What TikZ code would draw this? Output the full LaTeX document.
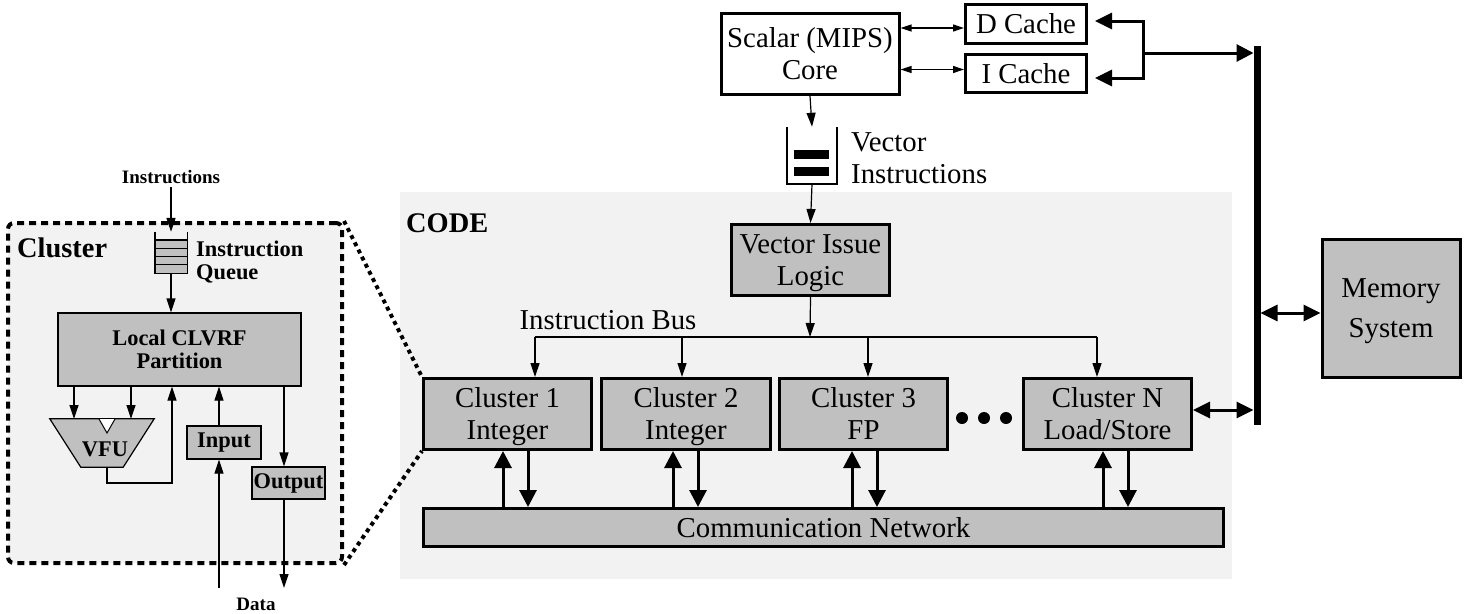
\documentclass[tikz,border=0pt]{standalone}
\usepackage{fontspec}
\setmainfont{Liberation Serif}
\usetikzlibrary{arrows.meta,positioning}

\definecolor{boxgray}{RGB}{192,192,192}
\definecolor{bggray}{RGB}{242,242,242}

\newcommand\bigtxt{\fontsize{28.8}{32}\selectfont}
\newcommand\midtxt{\fontsize{22.4}{23}\selectfont\bfseries}
\newcommand\smalltxt{\fontsize{19}{21}\selectfont\bfseries}

\tikzset{
	blk/.style={draw, line width=3pt, fill=boxgray, align=center, inner sep=0pt, text depth=0pt, font=\bigtxt},
	wblk/.style={blk, fill=white},
	sblk/.style={draw, line width=1.2pt, fill=boxgray, align=center, inner sep=0pt, font=\midtxt},
	sig/.style={line width=1.2pt, -{Triangle[length=14pt,width=9pt]}},
	duo/.style={line width=1.2pt, {Triangle[length=11pt,width=7pt]}-{Triangle[length=11pt,width=7pt]}},
	fatsig/.style={line width=3pt, -{Triangle[length=17pt,width=17pt]}},
	fatduo/.style={line width=3pt, {Triangle[length=17pt,width=16pt]}-{Triangle[length=17pt,width=16pt]}},
	dotline/.style={line width=4pt, dash pattern=on 4pt off 4pt},
}

\begin{document}
\begin{tikzpicture}[x=1pt,y=-1pt]
					\useasboundingbox (0,0) rectangle (1466,613);
					% CODE area
					\fill[bggray] (400,192) rectangle (1232,579);
					\node[font=\fontsize{28.4}{30}\selectfont\bfseries, anchor=west, inner sep=0pt] (code) at (406,223) {CODE};
					% scalar core, caches
					\node[wblk, minimum width=178pt, minimum height=81pt] (core) at (810,54) {Scalar (MIPS)\\Core};
					\node[wblk, minimum width=121pt, minimum height=39pt] (dc) at (1026,24) {D Cache};
					\node[wblk, minimum width=121pt, minimum height=38pt] (ic) at (1026,73.5) {I Cache};
					\draw[duo] ([yshift=-4pt]core.east |- dc.west) -- ([yshift=-4pt]dc.west);
					\draw[duo] ([yshift=4pt]core.east |- ic.west) -- ([yshift=4pt]ic.west);
					% vector instruction queue
					\node[minimum width=50pt, minimum height=57pt, inner sep=0pt] (vq) at (812,155.5) {};
					\draw[line width=2pt] (vq.north west) -- (vq.south west) -- (vq.south east) -- (vq.north east);
					\fill (794,150) rectangle (829,159);
					\fill (794,167) rectangle (829,176);
					\node[font=\bigtxt, align=left, anchor=west, inner sep=0pt] (vqlbl) at (851,158) {Vector\\Instructions};
					\draw[sig] (core.south) -- (vq.north);
					\node[blk, minimum width=158pt, minimum height=71pt] (vil) at (810.5,260) {Vector Issue\\Logic};
					\draw[sig] (vq.south) -- (vil.north);
					% clusters
					\node[blk, minimum width=168pt, minimum height=71pt] (c1) at (507.5,414) {Cluster 1\\Integer};
					\node[blk, minimum width=169pt, minimum height=71pt] (c2) at (686,414) {Cluster 2\\Integer};
					\node[blk, minimum width=168pt, minimum height=71pt] (c3) at (863.5,414) {Cluster 3\\FP};
					\node[blk, minimum width=168pt, minimum height=71pt] (cN) at (1107.5,414) {Cluster N\\Load/Store};
					\foreach \x in {962,984,1006}
					\fill (\x,418) circle (6pt);
					\node[blk, minimum width=800pt, minimum height=38pt] (net) at (823.5,527.5) {Communication Network};
					% instruction bus
					\coordinate (bus) at (810,337);
					\coordinate (t1) at (535,337);
					\coordinate (t2) at (682,337);
					\coordinate (t3) at (868,337);
					\coordinate (tN) at (1097,337);
					\draw[sig] (vil.south) -- (bus);
					\draw[line width=1.2pt] (t1) -- (tN);
					\node[font=\bigtxt, inner sep=0pt] (buslbl) at (608,320) {Instruction Bus};
					\foreach \t/\cl in {t1/c1,t2/c2,t3/c3,tN/cN}
					\draw[sig] (\t) -- (\t |- \cl.north);
					\foreach \ux/\cl in {503/c1,673/c2,852/c3,1103/cN}
					{
						\coordinate (u) at (\ux,0);
						\coordinate (d) at (\ux+25,0);
						\draw[fatsig] (u |- net.north) -- (u |- \cl.south);
						\draw[fatsig] (d |- \cl.south) -- (d |- net.north);
					}
					% memory bus
					\coordinate (bt) at (1257,46);
					\coordinate (bb) at (1257,425);
					\draw[line width=7pt] (bt) -- (bb);
					\coordinate (brt) at (1143,21);
					\coordinate (brb) at (1143,78);
					\coordinate (br) at (1143,53);
					\draw[fatduo, shorten <=7pt, shorten >=7pt] (brt -| dc.east) -- (brt) -- (brb) -- (brb -| ic.east);
					\draw[fatsig, shorten >=3.5pt] (br) -- (br -| bt);
					\node[blk, minimum width=138pt, minimum height=138pt] (mem) at (1391,308) {Memory\\[8pt]System};
					\draw[fatduo, shorten <=3.5pt] ([yshift=-5pt]bt |- mem.west) -- ([yshift=-5pt]mem.west);
					\draw[fatduo, shorten >=3.5pt] ([yshift=4pt]cN.east) -- ([yshift=4pt]bt |- cN.east);
					% cluster detail
					\node[draw, line width=4pt, dash pattern=on 7pt off 5pt, rounded corners=6pt, fill=bggray,
					minimum width=334pt, minimum height=340pt] (clu) at (175,393) {};
					\draw[dotline] (clu.north east) -- (c1.north west);
					\draw[dotline] (clu.south east) -- (c1.south west);
					\node[font=\fontsize{28.4}{30}\selectfont\bfseries, anchor=west, inner sep=0pt] (clulbl) at (17,248) {Cluster};
					\node[font=\smalltxt] (instr) at (171,177) {Instructions};
					\node[minimum width=32pt, minimum height=41pt, inner sep=0pt] (iq) at (171,252.5) {};
					\fill[boxgray] (155,240) rectangle (187,273);
					\foreach \y in {240,248.2,256.5,264.7}
					\draw[line width=1.2pt] (155,\y) -- (187,\y);
					\draw[line width=1.4pt] (iq.north west) -- (iq.south west) -- (iq.south east) -- (iq.north east);
					\node[font=\midtxt, align=left, anchor=west, inner sep=0pt] (iqlbl) at (196,262) {Instruction\\Queue};
					\draw[sig] (instr.south) -- (iq.north);
					\node[sblk, minimum width=243pt, minimum height=73pt] (lrf) at (179.5,349.5) {Local CLVRF\\Partition};
					\draw[sig] (iq.south) -- (iq.south |- lrf.north);
					% VFU
					\node[minimum width=104pt, minimum height=48pt, inner sep=0pt] (vfu) at (102,443) {};
					\draw[fill=boxgray, line width=1.2pt] (vfu.north west) -- (vfu.north east) -- ([xshift=-31pt]vfu.south east) -- ([xshift=31pt]vfu.south west) -- cycle;
					\filldraw[fill=white, line width=1pt] (99,419) -- (107,433) -- (115,419);
					\node[font=\midtxt, inner sep=0pt] (vfulbl) at (105,449) {VFU};
					\coordinate (vin1) at (74,419);
					\coordinate (vin2) at (131,419);
					\draw[sig] (lrf.south -| vin1) -- (vin1);
					\draw[sig] (lrf.south -| vin2) -- (vin2);
					\coordinate (vout) at (107,467);
					\coordinate (fb) at (172,483);
					\draw[sig] (vout) |- (fb) -- (fb |- lrf.south);
					% input, output
					\node[sblk, minimum width=74pt, minimum height=33pt] (inp) at (224,442.5) {Input};
					\node[sblk, minimum width=73pt, minimum height=32pt] (outp) at (288.5,483) {Output};
					\coordinate (din) at (219,588);
					\coordinate (dout) at (284,588);
					\draw[sig] (din) -- (din |- inp.south);
					\draw[sig] (din |- inp.north) -- (din |- lrf.south);
					\draw[sig] (dout |- lrf.south) -- (dout |- outp.north);
					\draw[sig] (dout |- outp.south) -- (dout);
					\node[font=\smalltxt, inner sep=0pt] (data) at (256,604) {Data};
				\end{tikzpicture}
\end{document}
